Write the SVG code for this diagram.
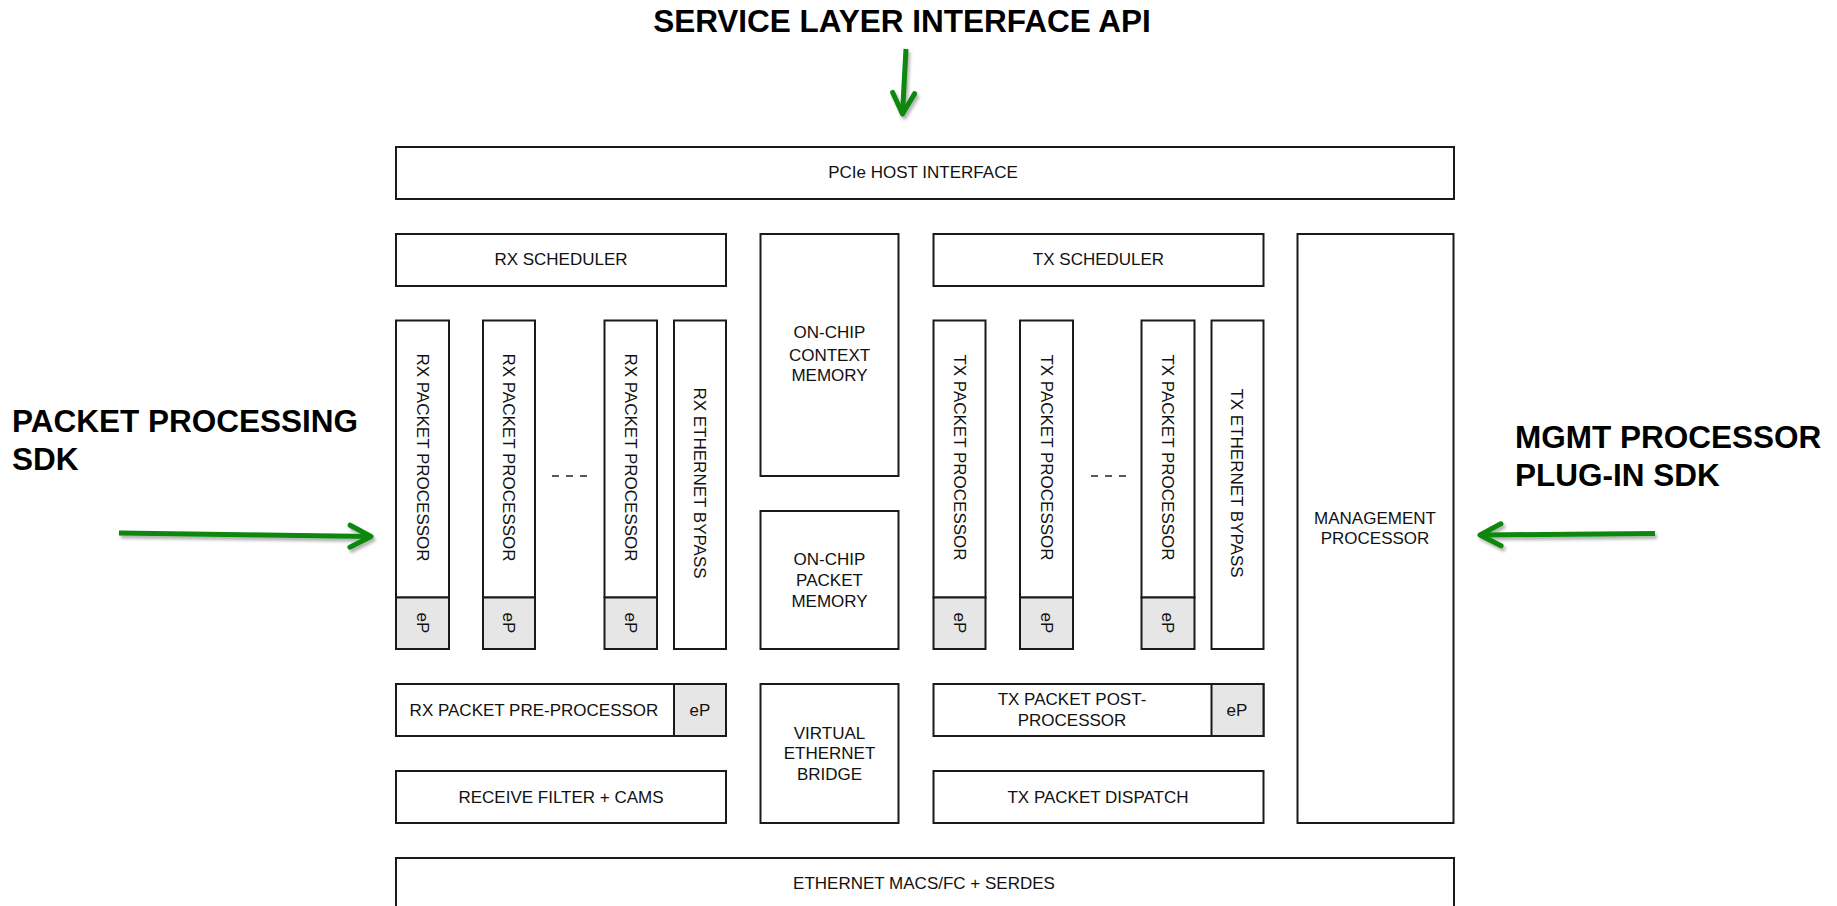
<svg xmlns="http://www.w3.org/2000/svg" width="1837" height="906" viewBox="0 0 1837 906">
<style>
.box{fill:#fff;stroke:#1a1a1a;stroke-width:2}
.ep{fill:#e6e6e6;stroke:#1a1a1a;stroke-width:2}
.t{font-family:"Liberation Sans",Arial,sans-serif;font-size:17px;fill:#111;text-anchor:middle}
.big{font-family:"Liberation Sans",Arial,sans-serif;font-size:31.5px;font-weight:bold;fill:#000}
.arr{fill:none;stroke:#0b870b;stroke-width:5;marker-end:url(#chev)}
.dash{stroke:#222;stroke-width:1.5;stroke-dasharray:7 7}
</style>
<defs>
<marker id="chev" markerUnits="strokeWidth" orient="auto" refX="0" refY="0" markerWidth="10" markerHeight="10" overflow="visible">
<path d="M-4.2,-2.2 L0,0 L-4.2,2.2" fill="none" stroke="#0b870b" stroke-width="1" stroke-linecap="round" stroke-linejoin="round"/>
</marker>
<filter id="sh" x="-20%" y="-50%" width="140%" height="200%">
<feDropShadow dx="2" dy="3" stdDeviation="1.5" flood-color="#000" flood-opacity="0.3"/>
</filter>
</defs>
<rect width="1837" height="906" fill="#fff"/>

<g id="labels">
<text class="big" x="902" y="31.5" text-anchor="middle">SERVICE LAYER INTERFACE API</text>
<text class="big" x="12" y="432">PACKET PROCESSING</text>
<text class="big" x="12" y="470">SDK</text>
<text class="big" x="1515" y="448">MGMT PROCESSOR</text>
<text class="big" x="1515" y="486">PLUG-IN SDK</text>
</g>

<g id="connectors" filter="url(#sh)">
<path class="arr" d="M906,49 L902.5,114"/>
<path class="arr" d="M119,533 L371,536.5"/>
<path class="arr" d="M1655,533.5 L1480,535"/>
</g>

<g id="pcie"><rect class="box" x="396" y="147" width="1058" height="52"/><text class="t" x="923" y="178">PCIe HOST INTERFACE</text></g>

<g id="rx-scheduler"><rect class="box" x="396" y="234" width="330" height="52"/><text class="t" x="561" y="265">RX SCHEDULER</text></g>
<g id="tx-scheduler"><rect class="box" x="933.5" y="234" width="330" height="52"/><text class="t" x="1098.5" y="265">TX SCHEDULER</text></g>

<g id="context-memory"><rect class="box" x="760.5" y="234" width="138" height="242"/>
<text class="t" x="829.5" y="338">ON-CHIP</text><text class="t" x="829.5" y="360.5">CONTEXT</text><text class="t" x="829.5" y="381">MEMORY</text></g>

<g id="packet-memory"><rect class="box" x="760.5" y="511" width="138" height="138"/>
<text class="t" x="829.5" y="565">ON-CHIP</text><text class="t" x="829.5" y="586">PACKET</text><text class="t" x="829.5" y="607">MEMORY</text></g>

<g id="management"><rect class="box" x="1297.5" y="234" width="156" height="589"/>
<text class="t" x="1375" y="523.5">MANAGEMENT</text><text class="t" x="1375" y="544">PROCESSOR</text></g>

<g id="rx-proc-1"><rect class="box" x="396" y="320.5" width="53" height="277"/><rect class="ep" x="396" y="597.5" width="53" height="51.5"/>
<text class="t" transform="translate(416.5,457.5) rotate(90)">RX PACKET PROCESSOR</text><text class="t" transform="translate(416.5,623) rotate(90)">eP</text></g>
<g id="rx-proc-2"><rect class="box" x="483" y="320.5" width="52" height="277"/><rect class="ep" x="483" y="597.5" width="52" height="51.5"/>
<text class="t" transform="translate(503,457.5) rotate(90)">RX PACKET PROCESSOR</text><text class="t" transform="translate(503,623) rotate(90)">eP</text></g>
<g id="rx-proc-n"><rect class="box" x="604.5" y="320.5" width="52.5" height="277"/><rect class="ep" x="604.5" y="597.5" width="52.5" height="51.5"/>
<text class="t" transform="translate(624.5,457.5) rotate(90)">RX PACKET PROCESSOR</text><text class="t" transform="translate(624.5,623) rotate(90)">eP</text></g>
<g id="rx-bypass"><rect class="box" x="674" y="320.5" width="52" height="328.5"/>
<text class="t" transform="translate(694,483) rotate(90)">RX ETHERNET BYPASS</text></g>
<line class="dash" x1="552" y1="476" x2="587" y2="476"/>

<g id="tx-proc-1"><rect class="box" x="933.5" y="320.5" width="52" height="277"/><rect class="ep" x="933.5" y="597.5" width="52" height="51.5"/>
<text class="t" transform="translate(953.5,457.5) rotate(90)">TX PACKET PROCESSOR</text><text class="t" transform="translate(953.5,623) rotate(90)">eP</text></g>
<g id="tx-proc-2"><rect class="box" x="1020" y="320.5" width="53" height="277"/><rect class="ep" x="1020" y="597.5" width="53" height="51.5"/>
<text class="t" transform="translate(1040.5,457.5) rotate(90)">TX PACKET PROCESSOR</text><text class="t" transform="translate(1040.5,623) rotate(90)">eP</text></g>
<g id="tx-proc-n"><rect class="box" x="1141.5" y="320.5" width="53" height="277"/><rect class="ep" x="1141.5" y="597.5" width="53" height="51.5"/>
<text class="t" transform="translate(1162,457.5) rotate(90)">TX PACKET PROCESSOR</text><text class="t" transform="translate(1162,623) rotate(90)">eP</text></g>
<g id="tx-bypass"><rect class="box" x="1211.5" y="320.5" width="52" height="328.5"/>
<text class="t" transform="translate(1231,483) rotate(90)">TX ETHERNET BYPASS</text></g>
<line class="dash" x1="1091" y1="476" x2="1126" y2="476"/>

<g id="rx-pre"><rect class="box" x="396" y="684" width="330" height="52"/><rect class="ep" x="674" y="684" width="52" height="52"/>
<text class="t" x="534" y="716">RX PACKET PRE-PROCESSOR</text><text class="t" x="700" y="716">eP</text></g>
<g id="veb"><rect class="box" x="760.5" y="684" width="138" height="139"/>
<text class="t" x="829.5" y="738.5">VIRTUAL</text><text class="t" x="829.5" y="759">ETHERNET</text><text class="t" x="829.5" y="780">BRIDGE</text></g>
<g id="tx-post"><rect class="box" x="933.5" y="684" width="330" height="52"/><rect class="ep" x="1211.5" y="684" width="52" height="52"/>
<text class="t" x="1072" y="705">TX PACKET POST-</text><text class="t" x="1072" y="726">PROCESSOR</text><text class="t" x="1237" y="716">eP</text></g>

<g id="rx-filter"><rect class="box" x="396" y="771" width="330" height="52"/><text class="t" x="561" y="802.5">RECEIVE FILTER + CAMS</text></g>
<g id="tx-dispatch"><rect class="box" x="933.5" y="771" width="330" height="52"/><text class="t" x="1098" y="802.5">TX PACKET DISPATCH</text></g>

<g id="ethernet"><rect class="box" x="396" y="858" width="1058" height="60"/><text class="t" x="924" y="888.5">ETHERNET MACS/FC + SERDES</text></g>
</svg>
